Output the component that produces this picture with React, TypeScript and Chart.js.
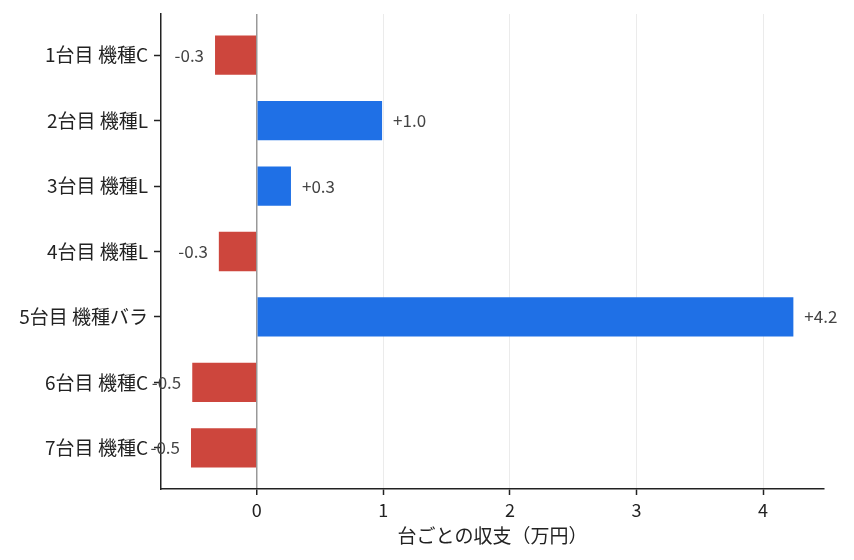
import { useEffect, useRef } from "react";
import { Chart, registerables } from "chart.js";

Chart.register(...registerables);

const machines = [
  "1台目 機種C",
  "2台目 機種L",
  "3台目 機種L",
  "4台目 機種L",
  "5台目 機種バラ",
  "6台目 機種C",
  "7台目 機種C",
];
const balance = [-0.33, 0.99, 0.27, -0.3, 4.24, -0.51, -0.52];
const xTicks = [0, 1, 2, 3, 4];

const FONT = "'Noto Sans CJK JP', 'Noto Sans', sans-serif";
const RED = "#cd463d";
const BLUE = "#1f70e6";

function fmt(v: number): string {
  return (v >= 0 ? "+" : "") + v.toFixed(1);
}

// ラベルを棒の先に描く
const valueLabels = {
  id: "valueLabels",
  afterDatasetsDraw(chart: Chart) {
    const ctx = chart.ctx;
    const meta = chart.getDatasetMeta(0);
    ctx.save();
    ctx.font = `17px ${FONT}`;
    ctx.fillStyle = "#444";
    ctx.textBaseline = "middle";
    meta.data.forEach((bar: any, i: number) => {
      const v = balance[i];
      ctx.textAlign = v >= 0 ? "left" : "right";
      ctx.fillText(fmt(v), bar.x + (v >= 0 ? 11 : -11), bar.y);
    });
    ctx.restore();
  },
};

export default function App() {
  const canvasRef = useRef<HTMLCanvasElement>(null);

  useEffect(() => {
    document.body.style.margin = "0";
    if (!canvasRef.current) return;

    const chart = new Chart(canvasRef.current, {
      type: "bar",
      data: {
        datasets: [
          {
            data: balance.map((v, i) => ({ x: v, y: i })),
            backgroundColor: balance.map((v) => (v >= 0 ? BLUE : RED)),
            barPercentage: 0.6,
            categoryPercentage: 1,
          },
        ],
      },
      options: {
        indexAxis: "y",
        animation: false,
        responsive: false,
        layout: { padding: { left: 0, right: 30, top: 14, bottom: 10 } },
        plugins: {
          legend: { display: false },
          tooltip: { enabled: false },
        },
        scales: {
          x: {
            type: "linear",
            min: -0.757,
            max: 4.482,
            afterFit: (s: any) => {
              s.height = 61;
              s.paddingLeft = 0;
              s.paddingRight = 0;
            },
            afterBuildTicks: (s: any) => {
              s.ticks = xTicks.map((v) => ({ value: v }));
            },
            grid: {
              color: (c: any) => (c.tick && c.tick.value === 0 ? "#999" : "#ebebeb"),
              lineWidth: (c: any) => (c.tick && c.tick.value === 0 ? 1.5 : 1),
              tickColor: "#222",
              tickLength: 6,
              tickWidth: 1.5,
            },
            border: { color: "#222", width: 1.5 },
            ticks: {
              color: "#222",
              font: { family: FONT, size: 18 },
              padding: 4,
            },
            title: {
              display: true,
              text: "台ごとの収支（万円）",
              color: "#222",
              font: { family: FONT, size: 19 },
              padding: { top: 4, bottom: 3 },
            },
          },
          y: {
            type: "linear",
            reverse: true,
            offset: false,
            min: -0.63,
            max: 6.63,
            afterFit: (s: any) => {
              s.width = 161;
              s.paddingTop = 0;
              s.paddingBottom = 0;
            },
            afterBuildTicks: (s: any) => {
              s.ticks = machines.map((_, i) => ({ value: i }));
            },
            grid: {
              offset: false,
              drawOnChartArea: false,
              tickColor: "#222",
              tickLength: 7,
              tickWidth: 1.5,
            },
            border: { color: "#222", width: 1.5 },
            ticks: {
              autoSkip: false,
              color: "#222",
              font: { family: FONT, size: 19 },
              padding: 6,
              callback: (v: any) => machines[v as number] ?? "",
            },
          },
        },
      },
      plugins: [valueLabels],
    });

    return () => {
      chart.destroy();
    };
  }, []);

  return (
    <div style={{ width: 854, height: 560, background: "#fff" }}>
      <canvas ref={canvasRef} width={854} height={560} />
    </div>
  );
}
